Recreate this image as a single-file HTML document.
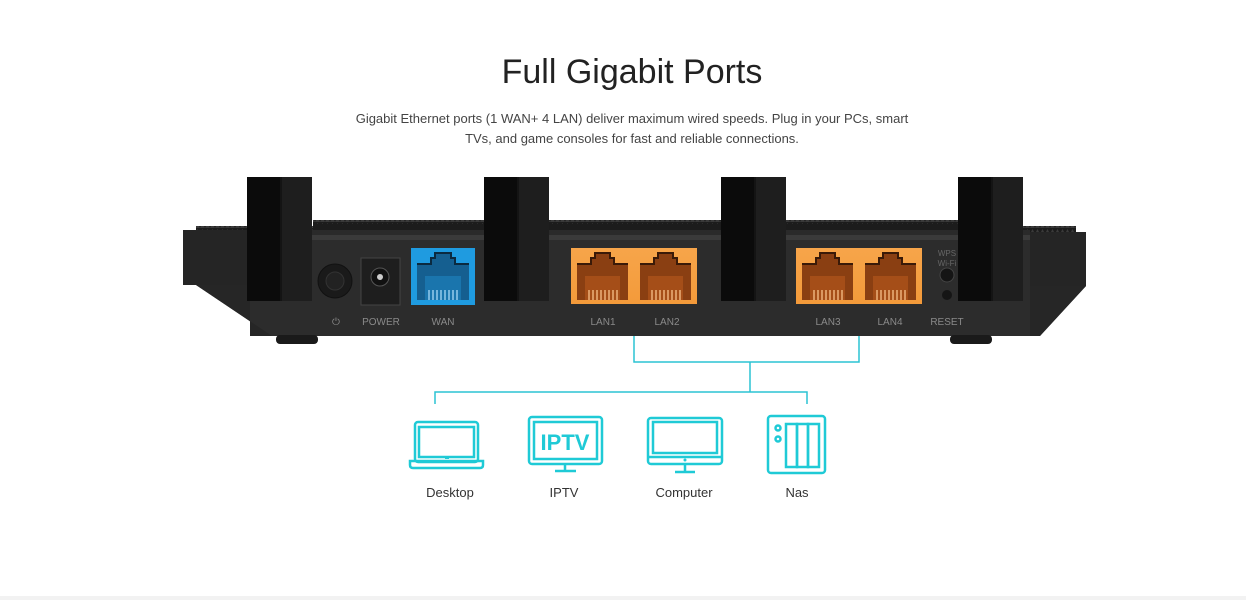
<!DOCTYPE html>
<html><head><meta charset="utf-8"><style>
html,body{margin:0;padding:0;background:#fff;}
body{width:1246px;height:600px;overflow:hidden;position:relative;font-family:"Liberation Sans",sans-serif;}
</style></head><body>
<svg width="1246" height="600" viewBox="0 0 1246 600" xmlns="http://www.w3.org/2000/svg" style="position:absolute;left:0;top:0">
<defs>
<pattern id="rid" width="5" height="6" patternUnits="userSpaceOnUse"><rect width="5" height="6" fill="#1c1c1c"/><path d="M0 6 L2.5 1 L5 6Z" fill="#3a3a3a"/></pattern>
<linearGradient id="orange" x1="0" y1="0" x2="0" y2="1"><stop offset="0" stop-color="#f7a54a"/><stop offset="1" stop-color="#f39a3a"/></linearGradient>
<g id="lanport">
<rect x="0" y="0" width="63" height="56" fill="url(#orange)"/>
<path d="M6 16 H20 V10 H24 V5 H39 V10 H43 V16 H57 V52 H6 Z" fill="#8a3f12"/>
<path d="M6 16 H20 V10 H24 V5 H39 V10 H43 V16 H57" fill="none" stroke="#3a1a08" stroke-width="2"/>
<rect x="14" y="28" width="35" height="24" fill="#a54e18"/>
<g stroke="#f6c08a" stroke-width="1.3">
<line x1="18" y1="42" x2="18" y2="52"/><line x1="22" y1="42" x2="22" y2="52"/><line x1="26" y1="42" x2="26" y2="52"/><line x1="30" y1="42" x2="30" y2="52"/><line x1="34" y1="42" x2="34" y2="52"/><line x1="38" y1="42" x2="38" y2="52"/><line x1="42" y1="42" x2="42" y2="52"/><line x1="46" y1="42" x2="46" y2="52"/>
</g>
</g>
<g id="wanport">
<rect x="0" y="0" width="64" height="57" fill="#1f9be0"/>
<path d="M6 16 H20 V10 H24 V5 H40 V10 H44 V16 H58 V52 H6 Z" fill="#155f90"/>
<path d="M6 16 H20 V10 H24 V5 H40 V10 H44 V16 H58" fill="none" stroke="#0b2a40" stroke-width="2"/>
<rect x="14" y="28" width="36" height="24" fill="#1a75ad"/>
<g stroke="#a8d8f5" stroke-width="1.3">
<line x1="18" y1="42" x2="18" y2="52"/><line x1="22" y1="42" x2="22" y2="52"/><line x1="26" y1="42" x2="26" y2="52"/><line x1="30" y1="42" x2="30" y2="52"/><line x1="34" y1="42" x2="34" y2="52"/><line x1="38" y1="42" x2="38" y2="52"/><line x1="42" y1="42" x2="42" y2="52"/><line x1="46" y1="42" x2="46" y2="52"/>
</g>
</g>
<g id="ant">
<rect x="0" y="0" width="65" height="124" fill="#141414"/>
<rect x="0" y="0" width="33" height="124" fill="#0b0b0b"/>
<rect x="35" y="0" width="30" height="124" fill="#1e1e1e"/>
</g>
</defs>

<text x="632" y="83" text-anchor="middle" font-size="34" fill="#222">Full Gigabit Ports</text>
<text x="632" y="123" text-anchor="middle" font-size="13" fill="#444">Gigabit Ethernet ports (1 WAN+ 4 LAN) deliver maximum wired speeds. Plug in your PCs, smart</text>
<text x="632" y="143" text-anchor="middle" font-size="13" fill="#444">TVs, and game consoles for fast and reliable connections.</text>

<rect x="196" y="226" width="880" height="8" fill="url(#rid)"/>
<path d="M313 220 H1000 V232 H313Z" fill="url(#rid)"/>
<rect x="313" y="224" width="690" height="12" fill="#1c1c1c"/>
<rect x="183" y="230" width="70" height="55" fill="#252525"/>
<rect x="1010" y="232" width="76" height="54" fill="#252525"/>
<path d="M196 285 H250 V230 H1030 V286 H1086 L1040 336 H272 Z" fill="#2a2a2a"/>
<rect x="250" y="235" width="780" height="5" fill="#3a3a3a"/>
<rect x="250" y="240" width="780" height="96" fill="#2c2c2c"/>
<path d="M196 285 L272 336 H250 V285Z" fill="#262626"/>
<path d="M1086 286 L1040 336 H1030 V286Z" fill="#262626"/>
<rect x="276" y="335" width="42" height="9" rx="4" fill="#1a1a1a"/>
<rect x="950" y="335" width="42" height="9" rx="4" fill="#1a1a1a"/>

<use href="#ant" x="247" y="177"/>
<use href="#ant" x="484" y="177"/>
<use href="#ant" x="721" y="177"/>
<use href="#ant" x="958" y="177"/>

<circle cx="335" cy="281" r="17" fill="#1a1a1a" stroke="#111"/>
<circle cx="335" cy="281" r="9" fill="#222" stroke="#333"/>
<rect x="361" y="258" width="39" height="47" fill="#1e1e1e" stroke="#444"/>
<circle cx="380" cy="277" r="9" fill="#111" stroke="#555"/>
<circle cx="380" cy="277" r="3" fill="#ccc"/>
<use href="#wanport" x="411" y="248"/>
<use href="#lanport" x="571" y="248"/>
<use href="#lanport" x="634" y="248"/>
<use href="#lanport" x="796" y="248"/>
<use href="#lanport" x="859" y="248"/>
<text x="947" y="256" text-anchor="middle" font-size="8" fill="#666">WPS</text>
<text x="947" y="266" text-anchor="middle" font-size="8" fill="#666">Wi-Fi</text>
<ellipse cx="947" cy="275" rx="7" ry="7" fill="#151515" stroke="#444"/>
<circle cx="947" cy="295" r="5" fill="#151515"/>

<g font-size="10" fill="#8a8a8a" text-anchor="middle">
<text x="336" y="325">⏻</text>
<text x="381" y="325">POWER</text>
<text x="443" y="325">WAN</text>
<text x="603" y="325">LAN1</text>
<text x="667" y="325">LAN2</text>
<text x="828" y="325">LAN3</text>
<text x="890" y="325">LAN4</text>
<text x="947" y="325">RESET</text>
</g>

<g stroke="#2bc3d3" stroke-width="1.5" fill="none">
<path d="M634 336 V362 H859 V336"/>
<path d="M750 362 V392"/>
<path d="M435 404 V392 H807 V404"/>
</g>

<g stroke="#1fcad6" stroke-width="2.5" fill="none">
<rect x="415" y="422" width="63" height="40" rx="3"/>
<rect x="419" y="427" width="55" height="30"/>
<path d="M410 461 H483 V465 Q483 468 480 468 H413 Q410 468 410 465Z"/>
<rect x="529" y="417" width="73" height="47" rx="3"/>
<rect x="534" y="422" width="63" height="37"/>
<path d="M565 464 V470 M555 471 H576"/>
<rect x="648" y="418" width="74" height="46" rx="3"/>
<rect x="653" y="422" width="64" height="31"/>
<line x1="648" y1="457" x2="722" y2="457"/>
<path d="M685 464 V471 M675 472 H695"/>
<rect x="768" y="416" width="57" height="57" rx="3"/>
<rect x="786" y="424" width="11" height="43"/>
<rect x="797" y="424" width="11" height="43"/>
<rect x="808" y="424" width="11" height="43"/>
<circle cx="778" cy="428" r="2.5"/>
<circle cx="778" cy="439" r="2.5"/>
</g>
<rect x="445" y="457" width="4" height="2" fill="#1fcad6"/>
<circle cx="685" cy="460" r="1.5" fill="#1fcad6"/>
<text x="565" y="450" text-anchor="middle" font-size="22" font-weight="bold" fill="#1fcad6">IPTV</text>

<g font-size="13" fill="#333" text-anchor="middle">
<text x="450" y="497">Desktop</text>
<text x="564" y="497">IPTV</text>
<text x="684" y="497">Computer</text>
<text x="797" y="497">Nas</text>
</g>
<rect x="0" y="596" width="1246" height="4" fill="#f2f2f2"/>
</svg>
</body></html>
